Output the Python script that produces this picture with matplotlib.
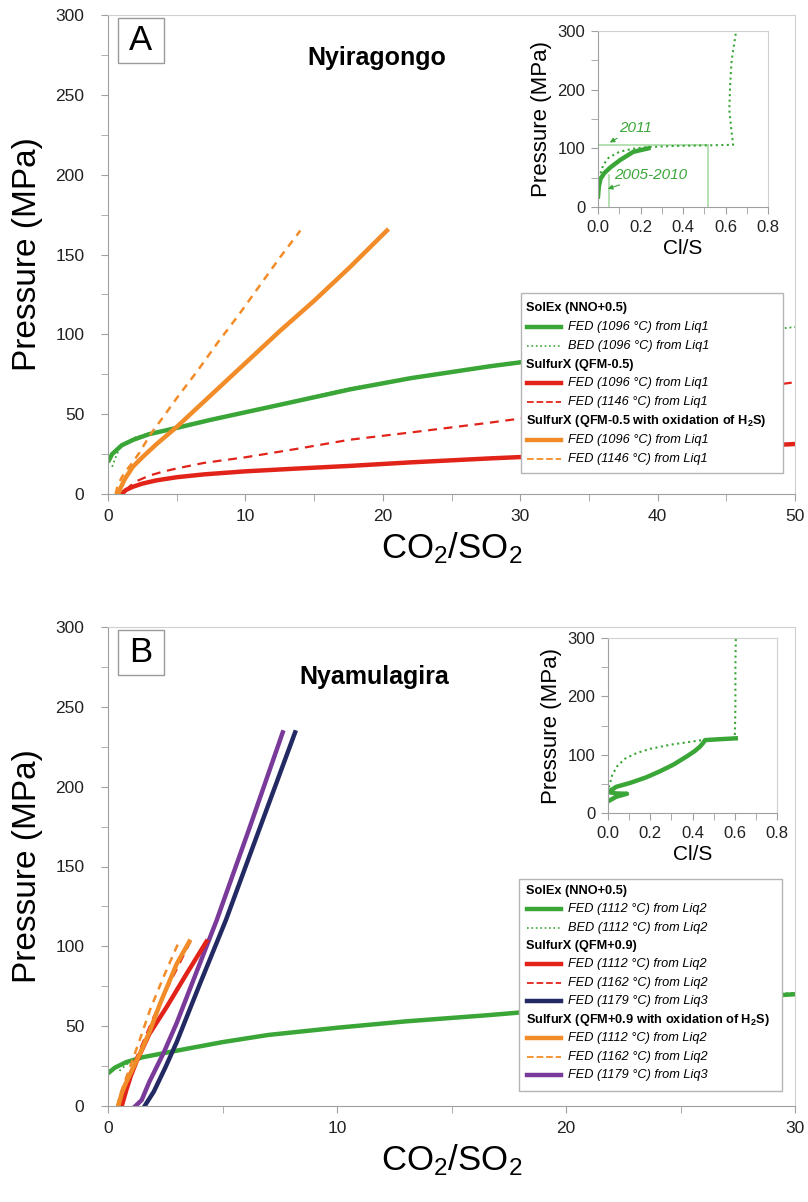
import matplotlib
matplotlib.use("Agg")
from matplotlib import pyplot as plt
from matplotlib.patches import Rectangle
from matplotlib.lines import Line2D
from matplotlib.ticker import MultipleLocator

plt.rcParams['font.family'] = ['Liberation Sans', 'DejaVu Sans']
plt.rcParams['mathtext.fontset'] = 'custom'
plt.rcParams['mathtext.rm'] = 'Liberation Sans'
plt.rcParams['mathtext.it'] = 'Liberation Sans:italic'
plt.rcParams['mathtext.bf'] = 'Liberation Sans:bold'

GREEN = '#3aa637'
RED = '#e2231a'
ORANGE = '#f28c28'
NAVY = '#232a63'
PURPLE = '#7a3a9a'
PALE = '#a9dba6'

# ---------- panel A: Nyiragongo ----------
a_fed_x = [0, 0.3, 1.0, 1.85, 3, 5.05, 7.5, 9.9, 13.9, 17.6, 22, 27.8, 35, 42, 47]
a_fed_p = [20, 25, 30.5, 34, 37.5, 41.5, 46.5, 51, 58.5, 65.5, 72.5, 80, 88, 96, 101.5]
a_bed_x = [0.3, 0.6, 0.87, 1.3, 2, 3, 5, 10, 17.6, 27.8, 35, 42, 50]
a_bed_p = [17, 24, 29, 32, 35.5, 38, 42, 51.5, 66.3, 80.5, 89, 97, 104.6]
a_red_x = [1.0, 1.3, 1.8, 2.5, 3.5, 5, 7, 10, 13.9, 17.6, 22, 27.8, 35, 42, 50]
a_red_p = [0, 2.5, 4.5, 6.5, 8.5, 10.5, 12.3, 14.2, 16, 17.6, 19.8, 22.3, 25, 28, 31.3]
a_redd_x = [1.3, 1.6, 2.2, 3, 4, 5, 7, 10, 13.9, 17.6, 22, 27.8, 35, 42, 50]
a_redd_p = [2, 5, 8.5, 11.5, 14, 16, 19.5, 23, 28.5, 34, 38.5, 44.7, 53, 61, 70]
a_org_x = [0.75, 0.9, 1.2, 1.8, 2.5, 3.5, 5, 7.5, 10, 12.5, 15, 17.6, 20.3]
a_org_p = [0, 3.5, 9, 17, 23, 31, 42, 62, 82, 102, 121, 142, 165]
a_orgd_x = [0.55, 0.7, 1.0, 1.4, 1.72, 2.3, 3.06, 4, 5, 6.5, 8, 9.5, 11, 12.5, 14]
a_orgd_p = [0, 5, 10.5, 15.5, 19, 26, 37, 48, 60, 77, 95, 112, 130, 148, 165]

# inset A (Cl/S)
ia_fed_cls = [0.0, 0.004, 0.012, 0.03, 0.06, 0.104, 0.166, 0.237]
ia_fed_p = [18, 35, 48, 58, 68, 80, 94, 100]
ia_bed_cls = [0.0, 0.003, 0.01, 0.025, 0.05, 0.1, 0.16, 0.23, 0.35, 0.5, 0.636, 0.628, 0.618, 0.622, 0.629, 0.65]
ia_bed_p = [20, 35, 55, 72, 84, 94, 99, 102, 104, 105, 106, 130, 165, 210, 250, 300]
ia_guide_p = 105
ia_guide_cls = [0.052, 0.518]
ia_guide_top = [54, 105]

# ---------- panel B: Nyamulagira ----------
b_fed_x = [0, 0.3, 0.8, 1.5, 2.4, 3.5, 5, 7, 10, 13, 16.7, 20, 24, 27, 30]
b_fed_p = [20.5, 24, 27.5, 30.5, 33, 36, 40, 44.5, 49, 53, 57, 61, 65, 67.5, 70]
b_bed_x = [0.5, 0.8, 1.2, 1.8, 2.4, 5, 10, 16.7, 20, 25, 30]
b_bed_p = [22, 26, 29, 31.5, 33.5, 40.5, 49.5, 57.5, 61.5, 66.5, 71]
b_red_x = [0.6, 0.8, 1.0, 1.25, 1.8, 2.56, 3.44, 4.3]
b_red_p = [0, 10, 19, 28, 45, 62, 83, 103]
b_redd_x = [0.5, 0.65, 0.85, 1.1, 1.5, 2.0, 2.7, 3.6]
b_redd_p = [0, 9, 17, 26, 39, 56, 77, 103]
b_navy_x = [1.6, 2.0, 2.5, 3.0, 4.0, 5.15, 6.6, 8.17]
b_navy_p = [0, 9, 24, 40, 76, 116.5, 173, 234]
b_org_x = [0.45, 0.6, 0.8, 1.0, 1.4, 1.8, 2.27, 3.0, 3.55]
b_org_p = [0, 8, 15, 21, 33, 46, 64, 89, 103]
b_orgd_x = [0.4, 0.55, 0.75, 1.0, 1.4, 1.83, 2.4, 3.1]
b_orgd_p = [0, 8, 16, 26, 42, 60, 80, 103]
b_pur_x = [1.2, 1.47, 1.8, 2.42, 3.0, 4.75, 6.2, 7.63]
b_pur_p = [0, 3.7, 15, 33, 52, 116.5, 175, 234]

# inset B (Cl/S)
ib_fed_cls = [0.0, 0.04, 0.09, 0.04, 0.0, 0.04, 0.104, 0.18, 0.246, 0.31, 0.373, 0.41, 0.436, 0.45, 0.46, 0.53, 0.605]
ib_fed_p = [20, 28, 33, 33.5, 36, 45, 51.5, 61, 71.5, 83, 97, 106, 114, 120, 125, 126.5, 128]
ib_bed_cls = [0.0, 0.005, 0.02, 0.043, 0.08, 0.137, 0.2, 0.294, 0.37, 0.436, 0.52, 0.6, 0.603, 0.603, 0.605]
ib_bed_p = [25, 45, 65, 80, 93, 103, 110, 117, 121, 124.5, 127, 129, 180, 250, 300]

legend_a = [
    (None, 'SolEx (NNO+0.5)'),
    ((GREEN, '-', 3.2), 'FED (1096 °C) from Liq1'),
    ((GREEN, ':', 1.2), 'BED (1096 °C) from Liq1'),
    (None, 'SulfurX (QFM-0.5)'),
    ((RED, '-', 3.2), 'FED (1096 °C) from Liq1'),
    ((RED, '--', 1.3), 'FED (1146 °C) from Liq1'),
    (None, r'SulfurX (QFM-0.5 with oxidation of H$_\mathbf{2}$S)'),
    ((ORANGE, '-', 3.2), 'FED (1096 °C) from Liq1'),
    ((ORANGE, '--', 1.3), 'FED (1146 °C) from Liq1'),
]
legend_b = [
    (None, 'SolEx (NNO+0.5)'),
    ((GREEN, '-', 3.2), 'FED (1112 °C) from Liq2'),
    ((GREEN, ':', 1.2), 'BED (1112 °C) from Liq2'),
    (None, 'SulfurX (QFM+0.9)'),
    ((RED, '-', 3.2), 'FED (1112 °C) from Liq2'),
    ((RED, '--', 1.3), 'FED (1162 °C) from Liq2'),
    ((NAVY, '-', 3.2), 'FED (1179 °C) from Liq3'),
    (None, r'SulfurX (QFM+0.9 with oxidation of H$_\mathbf{2}$S)'),
    ((ORANGE, '-', 3.2), 'FED (1112 °C) from Liq2'),
    ((ORANGE, '--', 1.3), 'FED (1162 °C) from Liq2'),
    ((PURPLE, '-', 3.2), 'FED (1179 °C) from Liq3'),
]

W, H = 808, 1202


def px_box(left, top, right, bottom):
    return [left / W, 1 - bottom / H, (right - left) / W, (bottom - top) / H]


def style_axes(ax, spine='#a0a0a0', frame='#d0d0d0', size=12, pad=4):
    for s in ['left', 'bottom']:
        ax.spines[s].set_color(spine)
    for s in ['top', 'right']:
        ax.spines[s].set_color(frame)
    ax.tick_params(which='both', direction='out', color=spine, labelsize=size,
                   labelcolor='#222222', pad=pad)
    ax.tick_params(which='major', length=5)
    ax.tick_params(which='minor', length=5)


def main_panel(fig, box, xmax, letter, title, title_xy):
    ax = fig.add_axes(px_box(*box))
    ax.set_xlim(0, xmax)
    ax.set_ylim(0, 300)
    ax.xaxis.set_major_locator(MultipleLocator(10))
    ax.xaxis.set_minor_locator(MultipleLocator(5))
    ax.yaxis.set_major_locator(MultipleLocator(50))
    ax.yaxis.set_minor_locator(MultipleLocator(25))
    style_axes(ax, size=12.5)
    ax.tick_params(axis='y', pad=12)
    ax.tick_params(axis='x', pad=6)
    ax.set_ylabel('Pressure (MPa)', fontsize=24)
    ax.yaxis.set_label_coords(-0.095, 0.5)
    ax.set_xlabel('CO$_2$/SO$_2$', fontsize=25)
    ax.xaxis.set_label_coords(0.5, -0.075)
    ax.add_patch(Rectangle((0.015, 0.9), 0.066, 0.093, transform=ax.transAxes,
                           fc='white', ec='#9a9a9a', lw=1, zorder=6))
    ax.text(0.048, 0.946, letter, transform=ax.transAxes, fontsize=25,
            ha='center', va='center', zorder=7)
    ax.text(title_xy[0], title_xy[1], title, transform=ax.transAxes, fontsize=18,
            fontweight='bold', ha='center', va='center')
    return ax


def inset_panel(fig, box):
    ax = fig.add_axes(px_box(*box))
    ax.set_xlim(0, 0.8)
    ax.set_ylim(0, 300)
    ax.xaxis.set_major_locator(MultipleLocator(0.2))
    ax.xaxis.set_minor_locator(MultipleLocator(0.1))
    ax.yaxis.set_major_locator(MultipleLocator(100))
    ax.yaxis.set_minor_locator(MultipleLocator(50))
    ax.xaxis.set_major_formatter(lambda v, p: '%.1f' % v)
    style_axes(ax, size=12, pad=4)
    ax.set_ylabel('Pressure (MPa)', fontsize=16, labelpad=4)
    ax.set_xlabel('Cl/S', fontsize=15, labelpad=3)
    return ax


def draw_legend(fig, box, first, last, rows):
    left, top, right, bottom = box
    fig.patches.append(Rectangle((left / W, 1 - bottom / H), (right - left) / W,
                                 (bottom - top) / H, transform=fig.transFigure,
                                 fc='white', ec='#b5b5b5', lw=1, zorder=5))
    step = (last - first) / (len(rows) - 1)
    for i, (handle, label) in enumerate(rows):
        y = 1 - (first + i * step) / H
        if handle is None:
            fig.text(526 / W, y, label, fontsize=9.2, fontweight='bold',
                     va='center', ha='left', zorder=6)
        else:
            color, ls, lw = handle
            fig.lines.append(Line2D([527 / W, 561 / W], [y, y], transform=fig.transFigure,
                                    color=color, ls=ls, lw=lw, zorder=6))
            fig.text(568 / W, y, label, fontsize=9.2, style='italic',
                     va='center', ha='left', zorder=6)


fig = plt.figure(figsize=(8.08, 12.02), dpi=100)

# ---------- A ----------
ax = main_panel(fig, (108, 15, 795, 494), 50, 'A', 'Nyiragongo', (0.392, 0.91))
ax.plot(a_fed_x, a_fed_p, color=GREEN, lw=3.2, solid_capstyle='butt')
ax.plot(a_bed_x, a_bed_p, color=GREEN, lw=1.3, ls=':')
ax.plot(a_red_x, a_red_p, color=RED, lw=3.2)
ax.plot(a_redd_x, a_redd_p, color=RED, lw=1.6, ls=(0, (4, 3)))
ax.plot(a_org_x, a_org_p, color=ORANGE, lw=3.2)
ax.plot(a_orgd_x, a_orgd_p, color=ORANGE, lw=1.8, ls=(0, (3, 2.5)))

ins = inset_panel(fig, (598, 31, 768, 207))
ins.plot([0, ia_guide_cls[1]], [ia_guide_p, ia_guide_p], color=PALE, lw=1.2)
for c, t in zip(ia_guide_cls, ia_guide_top):
    ins.plot([c, c], [0, t], color=PALE, lw=1.2)
ins.plot(ia_bed_cls, ia_bed_p, color=GREEN, lw=1.5, ls=':')
ins.plot(ia_fed_cls, ia_fed_p, color=GREEN, lw=3.2)
ins.annotate('2011', xy=(0.055, 110), xytext=(0.1, 135), color=GREEN, fontsize=11,
             style='italic', va='center', ha='left',
             arrowprops=dict(arrowstyle='-|>', color=GREEN, lw=0.8, mutation_scale=7,
                             shrinkA=1, shrinkB=0))
ins.annotate('2005-2010', xy=(0.046, 31), xytext=(0.075, 55), color=GREEN, fontsize=11,
             style='italic', va='center', ha='left',
             arrowprops=dict(arrowstyle='-|>', color=GREEN, lw=0.8, mutation_scale=7,
                             shrinkA=1, shrinkB=0))

draw_legend(fig, (521, 293, 783, 473), 308, 459, legend_a)

# ---------- B ----------
ax = main_panel(fig, (108, 627, 795, 1106), 30, 'B', 'Nyamulagira', (0.387, 0.896))
ax.plot(b_fed_x, b_fed_p, color=GREEN, lw=3.2)
ax.plot(b_bed_x, b_bed_p, color=GREEN, lw=1.3, ls=':')
ax.plot(b_navy_x, b_navy_p, color=NAVY, lw=3.2)
ax.plot(b_pur_x, b_pur_p, color=PURPLE, lw=3.2)
ax.plot(b_red_x, b_red_p, color=RED, lw=3.2)
ax.plot(b_redd_x, b_redd_p, color=RED, lw=1.6, ls=(0, (4, 3)))
ax.plot(b_org_x, b_org_p, color=ORANGE, lw=3.2)
ax.plot(b_orgd_x, b_orgd_p, color=ORANGE, lw=1.8, ls=(0, (3, 2.5)))

ins = inset_panel(fig, (608, 638, 777, 813))
ins.plot(ib_bed_cls, ib_bed_p, color=GREEN, lw=1.5, ls=':')
ins.plot(ib_fed_cls, ib_fed_p, color=GREEN, lw=3.2)

draw_legend(fig, (519, 879, 782, 1091), 890.7, 1075, legend_b)

fig.savefig('out.png', dpi=100)
